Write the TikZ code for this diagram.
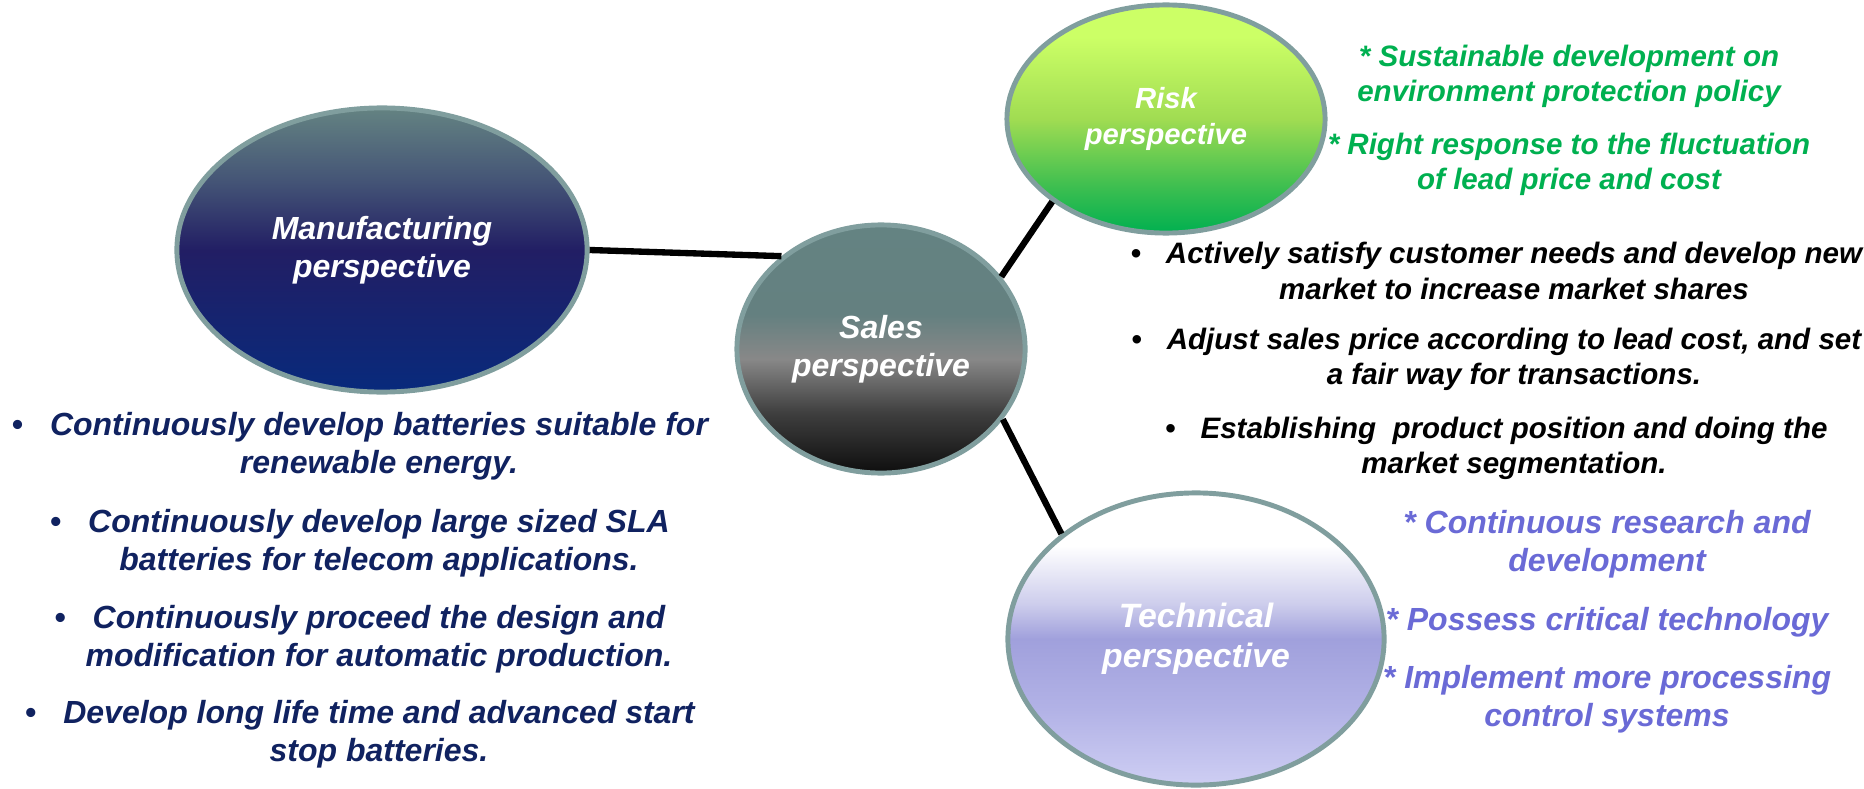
\documentclass[tikz,border=0pt]{standalone}
\usepackage{fontspec}
\setmainfont{Liberation Sans}
\usetikzlibrary{shapes.geometric}
\definecolor{rimgray}{RGB}{128,158,158}
\definecolor{navytext}{RGB}{16,34,96}
\definecolor{greentext}{RGB}{0,176,80}
\definecolor{violettext}{RGB}{106,106,214}
\definecolor{tealtop}{RGB}{100,131,130}
\definecolor{manuslate}{RGB}{68,84,118}
\definecolor{manumid}{RGB}{34,30,100}
\definecolor{manubot}{RGB}{8,42,124}
\definecolor{salesteal}{RGB}{100,128,128}
\definecolor{salesgray}{RGB}{136,136,136}
\definecolor{salesdark}{RGB}{62,62,62}
\definecolor{salesbot}{RGB}{14,14,14}
\definecolor{risktop}{RGB}{204,255,102}
\definecolor{riskmid}{RGB}{160,220,82}
\definecolor{risklow}{RGB}{60,190,80}
\definecolor{riskbot}{RGB}{0,176,80}
\definecolor{techup}{RGB}{205,205,236}
\definecolor{techmid}{RGB}{160,160,220}
\definecolor{techlow}{RGB}{178,178,230}
\definecolor{techbot}{RGB}{206,206,243}
\pgfdeclareverticalshading{manushade}{100bp}{color(0bp)=(manubot); color(25bp)=(manubot);
  color(50bp)=(manumid); color(62bp)=(manuslate); color(75bp)=(tealtop); color(100bp)=(tealtop)}
\pgfdeclareverticalshading{salesshade}{100bp}{color(0bp)=(salesbot); color(25bp)=(salesbot);
  color(37bp)=(salesdark); color(48bp)=(salesgray); color(57bp)=(salesteal); color(75bp)=(tealtop); color(100bp)=(tealtop)}
\pgfdeclareverticalshading{riskshade}{100bp}{color(0bp)=(riskbot); color(25bp)=(riskbot);
  color(35bp)=(risklow); color(50bp)=(riskmid); color(68bp)=(risktop); color(100bp)=(risktop)}
\pgfdeclareverticalshading{techshade}{100bp}{color(0bp)=(techbot); color(25bp)=(techbot);
  color(38bp)=(techlow); color(50bp)=(techmid); color(56bp)=(techup); color(66bp)=(white); color(100bp)=(white)}
\tikzset{
  persp/.style={ellipse,draw=rimgray,line width=1.4pt,inner sep=0pt,text=white,align=center,
    font=\bfseries\itshape\fontsize{9.1}{10.9}\selectfont},
  link/.style={line width=1.8pt},
  notes/.style={align=center,inner sep=0pt,font=\bfseries\itshape\fontsize{9.1}{10.9}\selectfont},
  smallnotes/.style={notes,font=\bfseries\itshape\fontsize{8.4}{10}\selectfont},
}
\newcommand{\bul}{\llap{\textbullet\hspace{0.85em}}}
\begin{document}
\begin{tikzpicture}[x=0.01cm,y=-0.01cm]
                \useasboundingbox (0,0) rectangle (1864,788);
                \node[persp,minimum width=4.1cm,minimum height=2.84cm,shading=manushade] (manu) at (382,250) {Manufacturing\\perspective};
                \node[persp,minimum width=2.88cm,minimum height=2.48cm,shading=salesshade] (sales) at (881,349) {Sales\\perspective};
                \node[persp,minimum width=3.18cm,minimum height=2.28cm,shading=riskshade,
                  font=\bfseries\itshape\fontsize{8.3}{10}\selectfont] (risk) at (1166,119) {\raisebox{-6pt}{Risk}\\\raisebox{-6pt}{perspective}};
                \node[persp,minimum width=3.76cm,minimum height=2.92cm,shading=techshade,
                  font=\bfseries\itshape\fontsize{9.6}{11.4}\selectfont] (tech) at (1196,639) {Technical\\perspective};
                \draw[link] (manu.east) -- (sales.137);
                \draw[link] (sales.31) -- (risk.216);
                \draw[link] (sales.-30) -- (tech.142);
                \node[smallnotes,text=greentext] (r1) at (1569,76) {* Sustainable development on\\environment protection policy};
                \node[smallnotes,text=greentext] (r2) at (1569,164) {* Right response to the fluctuation\\of lead price and cost};
                \node[smallnotes] (s1) at (1514,271) {\bul Actively satisfy customer needs and develop new\\market to increase market shares};
                \node[smallnotes] (s2) at (1514,359) {\bul Adjust sales price according to lead cost, and set\\a fair way for transactions.};
                \node[smallnotes] (s3) at (1514,448) {\bul Establishing\ \ product position and doing the\\market segmentation.};
                \node[notes,text=violettext] (t1) at (1607,544) {* Continuous research and\\development};
                \node[notes,text=violettext] (t2) at (1607,622) {* Possess critical technology};
                \node[notes,text=violettext] (t3) at (1607,699) {* Implement more processing\\control systems};
                \node[notes,text=navytext] (m1) at (379,446) {\bul Continuously develop batteries suitable for\\renewable energy.};
                \node[notes,text=navytext] (m2) at (379,543) {\bul Continuously develop large sized SLA\\batteries for telecom applications.};
                \node[notes,text=navytext] (m3) at (379,639) {\bul Continuously proceed the design and\\modification for automatic production.};
                \node[notes,text=navytext] (m4) at (379,734) {\bul Develop long life time and advanced start\\stop batteries.};
            \end{tikzpicture}
\end{document}
